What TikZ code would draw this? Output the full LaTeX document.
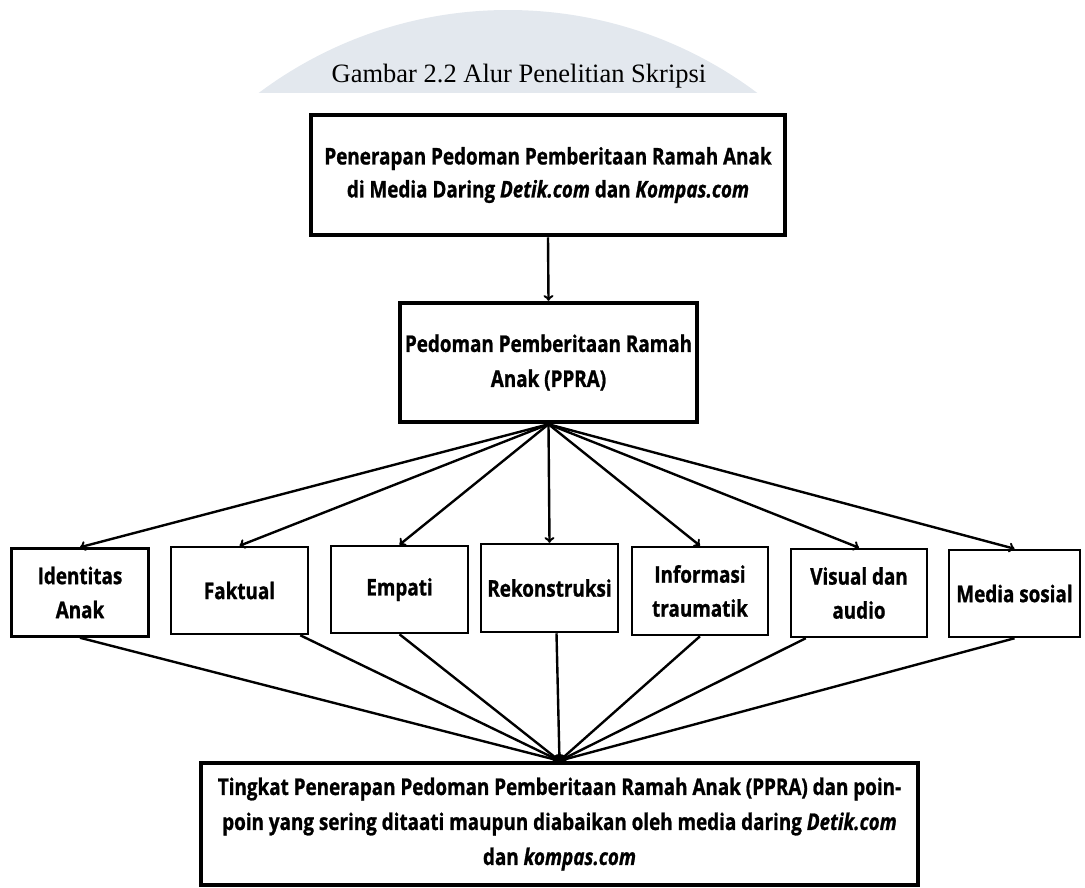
\documentclass[tikz,border=0pt]{standalone}
\usepackage{fontspec}
\setmainfont{Open Sans}[FakeStretch=0.82,BoldFeatures={FakeBold=1},BoldItalicFeatures={FakeBold=1}]
\newfontfamily\titlefont{Liberation Serif}
\definecolor{wmark}{HTML}{E3E8EE}
\begin{document}
\begin{tikzpicture}[x=1pt,y=-1pt,
    bigbox/.style={draw,line width=4.5pt,align=center,inner sep=0pt,font=\fontsize{23}{33}\selectfont\bfseries},
    smallbox/.style={draw,line width=2.5pt,align=center,inner sep=0pt,minimum height=88pt,font=\fontsize{23}{34}\selectfont\bfseries},
    link/.style={->,line width=2.4pt}]
    \useasboundingbox (0,0) rectangle (1085,887);
    \begin{scope}
        \clip (0,0) rectangle (1085,92);
        \fill [wmark] (508,426) circle (416pt);
    \end{scope}
    \node [font=\titlefont\fontsize{26.5}{30}\selectfont] (title) at (519,76) {Gambar 2.2 Alur Penelitian Skripsi};
    \node [bigbox,minimum width=474pt,minimum height=120pt] (top) at (548,175) {Penerapan Pedoman Pemberitaan Ramah Anak\\di Media Daring \textit{Detik.com} dan \textit{Kompas.com}};
    \node [bigbox,minimum width=297pt,minimum height=119pt,font=\fontsize{23}{35}\selectfont\bfseries] (mid) at (548.5,362.5) {Pedoman Pemberitaan Ramah\\Anak (PPRA)};
    \node [smallbox,minimum width=137pt] (b1) at (80,592.5) {Identitas\\Anak};
    \node [smallbox,minimum width=137pt,minimum height=87pt] (b2) at (239.5,590.5) {Faktual};
    \node [smallbox,minimum width=137pt,minimum height=87pt] (b3) at (399.5,589.5) {Empati};
    \node [smallbox,minimum width=137pt] (b4) at (549.5,588) {Rekonstruksi};
    \node [smallbox,minimum width=136pt] (b5) at (700,591) {Informasi\\traumatik};
    \node [smallbox,minimum width=136pt] (b6) at (859,593) {Visual dan\\audio};
    \node [smallbox,minimum width=131pt,minimum height=87pt] (b7) at (1014.5,593.5) {Media sosial};
    \node [bigbox,minimum width=717pt,minimum height=122pt,font=\fontsize{23}{35}\selectfont\bfseries] (bot) at (559.5,824) {Tingkat Penerapan Pedoman Pemberitaan Ramah Anak (PPRA) dan poin-\\poin yang sering ditaati maupun diabaikan oleh media daring \textit{Detik.com}\\dan \textit{kompas.com}};
    \draw [link] (top.south) -- (mid.north);
    \foreach \b in {b1,b2,b3,b4,b5,b6,b7}
        \draw [link] (mid.south) -- (\b.north);
    \draw [link] (b1.south) -- (bot.north);
    \draw [link] ([xshift=-9pt]b2.south east) -- (bot.north);
    \draw [link] (b3.south) -- (bot.north);
    \draw [link] ([xshift=7pt]b4.south) -- (bot.north);
    \draw [link] (b5.south) -- (bot.north);
    \draw [link] ([xshift=16pt]b6.south west) -- (bot.north);
    \draw [link] (b7.south) -- (bot.north);
\end{tikzpicture}
\end{document}
